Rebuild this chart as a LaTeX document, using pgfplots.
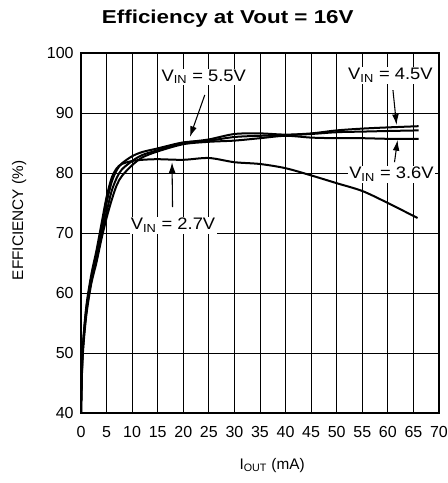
\documentclass[border=0pt]{standalone}
\usepackage{fontspec}
\setmainfont{Liberation Sans}
\newfontfamily\titlefont[FakeStretch=1.2]{Liberation Sans}
\newfontfamily\annfont[FakeStretch=1.1]{Liberation Sans}
\usepackage{pgfplots}
\pgfplotsset{compat=1.18}
\usetikzlibrary{arrows.meta}
\begin{document}
\begin{tikzpicture}
\path[use as bounding box] (-60.75pt,-52.5pt) rectangle (275.25pt,309.75pt);
\begin{axis}[
  scale only axis, width=268.5pt, height=270pt,
  xmin=0, xmax=70, ymin=40, ymax=100,
  xtick={0,5,...,70}, ytick={40,50,...,100},
  grid=major, major grid style={black, line width=0.65pt},
  axis line style={black, line width=0.8pt},
  major tick length=0pt,
  /pgf/number format/assume math mode=true,
  ticklabel style={font=\fontsize{12}{14}\selectfont},
  yticklabel style={xshift=-2pt},
  xticklabel style={yshift=-6.5pt},
  title={\titlefont\bfseries Efficiency at Vout = 16V},
  title style={at={(axis description cs:0.41,1.072)}, anchor=center, font=\fontsize{14}{16}\selectfont},
  xlabel={I\textsubscript{OUT} (mA)},
  xlabel style={at={(axis description cs:0.534,-0.146)}, anchor=center, font=\fontsize{11.5}{14}\selectfont},
  ylabel={EFFICIENCY (\%)},
  ylabel style={at={(axis description cs:-0.173,0.535)}, anchor=center, font=\fontsize{11.5}{14}\selectfont},
  every axis plot post/.append style={black, line width=1.5pt, smooth, tension=0.5, mark=none},
]
\addplot coordinates {(0,40)(0.3,50)(1,57)(2,62.5)(3,66)(4,70.5)(5,75)(6,78.5)(7,80.5)(8,81.6)(10,82.8)(12,83.5)(15,84.1)(20,85.1)(25,85.4)(30,86)(35,86.2)(40,86.3)(45,86.5)(50,86.8)(55,86.9)(60,87)(66,87.1)};
\addplot coordinates {(0,40)(0.3,49.5)(1,56.5)(2,62)(3,65.5)(4,69.5)(5,73.5)(6,77)(7,79.2)(8,80.6)(10,82)(12,83)(15,83.8)(20,85)(25,85.6)(30,86.5)(35,86.6)(40,86.4)(45,86.6)(50,87.1)(55,87.4)(60,87.6)(66,87.8)};
\addplot coordinates {(0,40)(0.3,49)(1,56)(2,61.5)(3,65)(4,69)(5,72.5)(6,75.5)(7,78)(8,79.5)(10,81.3)(12,82.6)(15,83.6)(20,84.8)(25,85.2)(30,85.4)(35,85.8)(40,86.2)(45,85.9)(50,85.8)(55,85.8)(60,85.7)(66,85.7)};
\addplot coordinates {(0,40)(0.3,50)(1,57.5)(2,63)(3,67)(4,71.5)(5,76)(6,79.2)(7,80.8)(8,81.5)(10,82)(12,82.2)(15,82.3)(20,82.2)(25,82.5)(30,81.8)(35,81.5)(40,80.8)(45,79.6)(50,78.3)(55,77)(60,75)(65.8,72.5)};
% annotations
\node[fill=white, inner sep=1pt, font=\annfont\fontsize{12.5}{14}\selectfont] at (axis cs:24,96) {V\textsubscript{IN} = 5.5V};
\draw[line width=0.8pt, -{Latex[length=8pt,width=5pt]}] (axis cs:24.2,93) -- (axis cs:21.3,86);
\node[fill=white, inner sep=1pt, font=\annfont\fontsize{12.5}{14}\selectfont] at (axis cs:18,71.3) {V\textsubscript{IN} = 2.7V};
\draw[line width=0.8pt, -{Latex[length=8pt,width=5pt]}] (axis cs:17.9,74.3) -- (axis cs:17.8,81.8);
\node[fill=white, inner sep=1pt, font=\annfont\fontsize{12.5}{14}\selectfont] at (axis cs:60.5,96.3) {V\textsubscript{IN} = 4.5V};
\draw[line width=0.8pt, -{Latex[length=8pt,width=5pt]}] (axis cs:61,93.8) -- (axis cs:61.7,88);
\node[fill=white, inner sep=1pt, font=\annfont\fontsize{12.5}{14}\selectfont] at (axis cs:60.7,79.8) {V\textsubscript{IN} = 3.6V};
\draw[line width=0.8pt, -{Latex[length=8pt,width=5pt]}] (axis cs:61.3,81.8) -- (axis cs:61.9,85.5);
\end{axis}
\end{tikzpicture}
\end{document}
